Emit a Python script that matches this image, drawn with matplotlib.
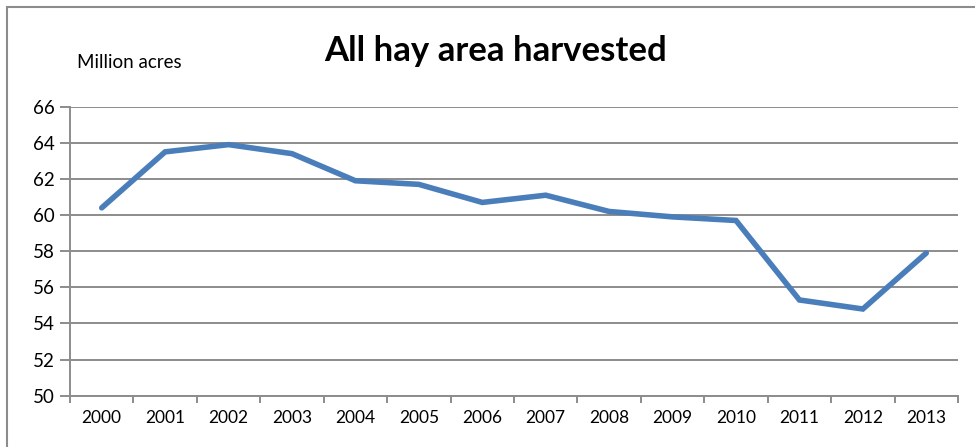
import matplotlib
matplotlib.use("Agg")
import matplotlib.pyplot as plt
from matplotlib.patches import Rectangle

years = ["2000", "2001", "2002", "2003", "2004", "2005", "2006",
         "2007", "2008", "2009", "2010", "2011", "2012", "2013"]
acres = [60.4, 63.5, 63.9, 63.4, 61.9, 61.7, 60.7,
         61.1, 60.2, 59.9, 59.7, 55.3, 54.8, 57.9]
yticks = [50, 52, 54, 56, 58, 60, 62, 64, 66]

plt.rcParams['font.family'] = ['Lato', 'DejaVu Sans']

fig = plt.figure(figsize=(9.75, 4.47), dpi=100)
ax = fig.add_axes([70/975, 1-395.7/447, (958-70)/975, (395.7-106.7)/447])

x = list(range(len(years)))
ax.plot(x, acres, color='#4a7ebb', lw=4.0, solid_joinstyle='miter', solid_capstyle='round', zorder=3)

ax.set_xlim(-0.5, len(years) - 0.5)
ax.set_ylim(50, 66)
ax.set_yticks(yticks)
ax.set_yticklabels([str(v) for v in yticks], fontsize=13.5)
ax.yaxis.grid(True, color='#8c8c8c', lw=1.4)
ax.set_axisbelow(True)

ax.set_xticks(x)
ax.set_xticklabels(years, fontsize=12.5)
ax.tick_params(axis='x', length=0, pad=10)
ax.set_xticks([i - 0.5 for i in range(len(years) + 1)], minor=True)
ax.tick_params(axis='x', which='minor', length=5, width=1.4, color='#8c8c8c', direction='out')
ax.tick_params(axis='y', length=7, width=1.4, color='#8c8c8c', pad=4)

for s in ['top', 'right']:
    ax.spines[s].set_visible(False)
for s in ['left', 'bottom']:
    ax.spines[s].set_color('#8c8c8c')
    ax.spines[s].set_linewidth(1.4)

fig.text(496/975, 1-51/447, "All hay area harvested", fontsize=25, fontweight='bold',
         ha='center', va='center')
fig.text(77/975, 1-63/447, "Million acres", fontsize=13.5, ha='left', va='center')

fig.patches.append(Rectangle((7/975, -0.1), 1.2, 1-7/447+0.1, transform=fig.transFigure,
                             fill=False, edgecolor='#8c8c8c', lw=1.5))

fig.savefig("out.png", dpi=100)
